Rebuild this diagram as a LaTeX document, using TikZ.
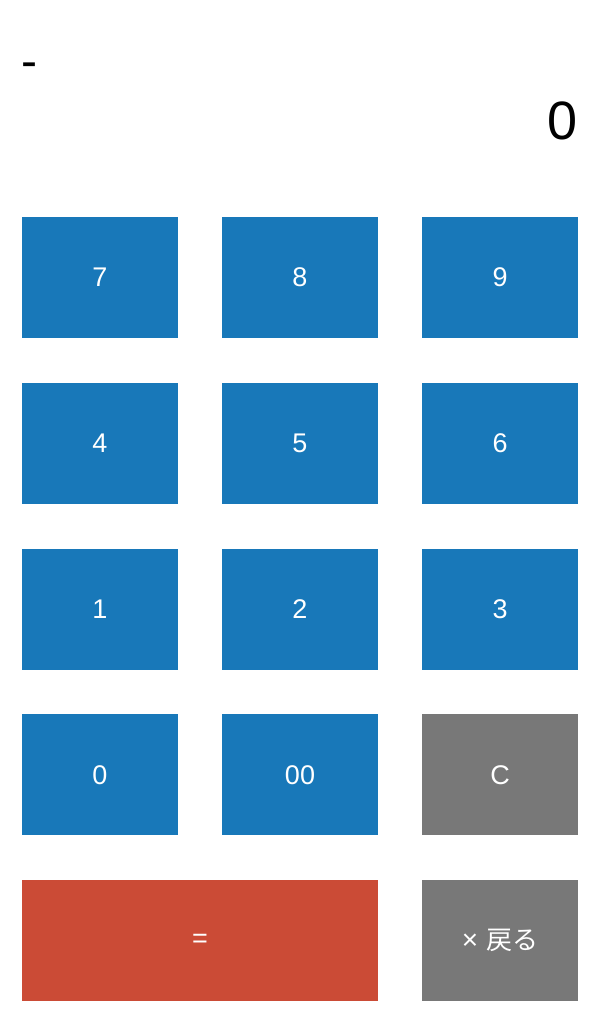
\documentclass[tikz,border=0pt]{standalone}
\usepackage{fontspec}
\setmainfont{Liberation Sans}
\newfontfamily\cjk{Noto Sans CJK JP}
\definecolor{keyblue}{HTML}{1878B9}
\definecolor{keyred}{HTML}{CB4B36}
\definecolor{keygray}{HTML}{787878}
\begin{document}
\begin{tikzpicture}[x=1pt,y=-1pt,
  keybox/.style={fill=#1,draw=none},
  keylabel/.style={text=white,font=\fontsize{27}{27}\selectfont,inner sep=0pt,anchor=center}]
\useasboundingbox[fill=white] (0,0) rectangle (600,1024);
% display
\node[anchor=base west,inner sep=0pt,font=\fontsize{48}{48}\selectfont] (expr) at (21,77.5) {-};
\node[anchor=base east,inner sep=0pt,font=\fontsize{54}{54}\selectfont] (result) at (578,140) {0};
% keys
\foreach \lab/\nm/\col/\row/\c in {7/k7/0/0/keyblue,8/k8/1/0/keyblue,9/k9/2/0/keyblue,
  4/k4/0/1/keyblue,5/k5/1/1/keyblue,6/k6/2/1/keyblue,
  1/k1/0/2/keyblue,2/k2/1/2/keyblue,3/k3/2/2/keyblue,
  0/k0/0/3/keyblue,00/k00/1/3/keyblue,C/kc/2/3/keygray}{
  \pgfmathsetmacro{\xa}{22+200*\col}
  \pgfmathsetmacro{\ya}{217+165.75*\row}
  \fill[\c] (\xa,\ya) rectangle ++(156,121);
  \node[keylabel] (\nm) at (\xa+78,\ya+60.5) {\lab};
}
\fill[keyred] (22,880) rectangle (378,1001);
\node[keylabel] (keq) at (200,940.5) {=};
\fill[keygray] (422,880) rectangle (578,1001);
\node[keylabel,font=\fontsize{26}{26}\selectfont] (kback) at (500,940.5) {{\fontsize{28}{28}\selectfont ×}\hspace{8pt}{\cjk 戻る}};
\end{tikzpicture}
\end{document}
